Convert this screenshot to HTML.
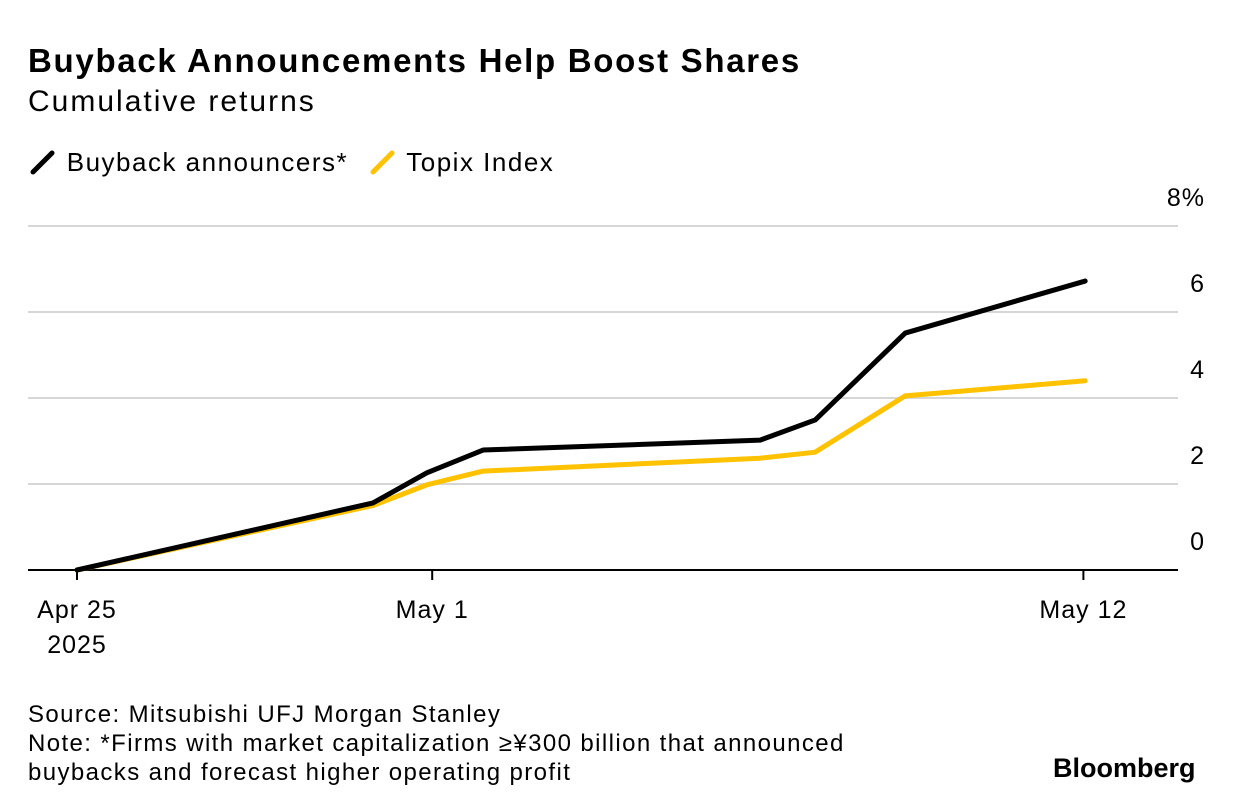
<!DOCTYPE html>
<html><head><meta charset="utf-8"><style>
body{margin:0;background:#fff;font-family:"Liberation Sans",sans-serif;color:#000}
#wrap{position:relative;width:1233px;height:812px;overflow:hidden}
.t{position:absolute;white-space:nowrap}
</style></head><body><div id="wrap">
<div class="t" style="left:28px;top:42px;font-size:33px;font-weight:bold;letter-spacing:1.7px">Buyback Announcements Help Boost Shares</div>
<div class="t" style="left:28px;top:85px;font-size:30px;letter-spacing:2px">Cumulative returns</div>
<div class="t" style="left:28px;top:147px;font-size:26px;letter-spacing:1.5px"><svg width="30" height="30" style="vertical-align:-6px"><line x1="5" y1="25" x2="24" y2="6" stroke="#000" stroke-width="5" stroke-linecap="round"/></svg> Buyback announcers*</div>
<div class="t" style="left:368px;top:147px;font-size:26px;letter-spacing:1.5px"><svg width="30" height="30" style="vertical-align:-6px"><line x1="5" y1="25" x2="24" y2="6" stroke="#ffc200" stroke-width="5" stroke-linecap="round"/></svg> Topix Index</div>
<svg id="plot" width="1233" height="812" style="position:absolute;left:0;top:0"></svg>
<div class="t" style="left:28px;top:700px;font-size:24px;line-height:29px;letter-spacing:1.4px">Source: Mitsubishi UFJ Morgan Stanley<br>Note: *Firms with market capitalization ≥¥300 billion that announced<br>buybacks and forecast higher operating profit</div>
<div class="t" style="left:1053px;top:753px;font-size:27px;font-weight:bold;letter-spacing:0px">Bloomberg</div>
</div>
<script>
const dayOffsets=[0,5,5.91,6.86,11.54,12.47,13.99,17.03];
const buyback=[0,1.56,2.26,2.79,3.02,3.49,5.51,6.72];
const topix=[0,1.5,1.98,2.30,2.60,2.74,4.05,4.40];
const yTicks=[0,2,4,6,8];
const xTickDays=[0,6,17];
const xTickLabels=[["Apr 25","2025"],["May 1"],["May 12"]];
const NS="http://www.w3.org/2000/svg";
const svg=document.getElementById('plot');
const xs=d=>77+d*59.2;
const ys=v=>570-v*43;
function mk(t,a){const e=document.createElementNS(NS,t);for(const k in a)e.setAttribute(k,a[k]);svg.appendChild(e);return e;}
yTicks.forEach((v,i)=>{
 if(v!==0){const l=mk('line',{x1:28,x2:1178,y1:ys(v),y2:ys(v),stroke:'#d6d6d6','stroke-width':2});
 
 }
 const t=mk('text',{x:1205,y:ys(v)-20,'text-anchor':'end','font-size':25,'letter-spacing':1,'font-family':'Liberation Sans, sans-serif'});
 t.textContent=v+(i===yTicks.length-1?'%':'');
 
 
});
const ax=mk('line',{x1:28,x2:1178,y1:570,y2:570,stroke:'#000','stroke-width':2});


xTickDays.forEach((d,i)=>{
 const tk=mk('line',{x1:xs(d),x2:xs(d),y1:570,y2:580,stroke:'#000','stroke-width':2});
 
 
 xTickLabels[i].forEach((s,j)=>{
  const t=mk('text',{x:xs(d),y:618+j*35,'text-anchor':'middle','font-size':25,'letter-spacing':1,'font-family':'Liberation Sans, sans-serif'});
  t.textContent=s;
  
  
 });
});
function line(vals,color,name){
 const p=mk('polyline',{points:vals.map((v,i)=>xs(dayOffsets[i])+','+ys(v)).join(' '),fill:'none',stroke:color,'stroke-width':5,'stroke-linejoin':'round','stroke-linecap':'round'});
 
 
}
line(topix,'#ffc200','topix-line');
line(buyback,'#000','buyback-line');
</script></body></html>
